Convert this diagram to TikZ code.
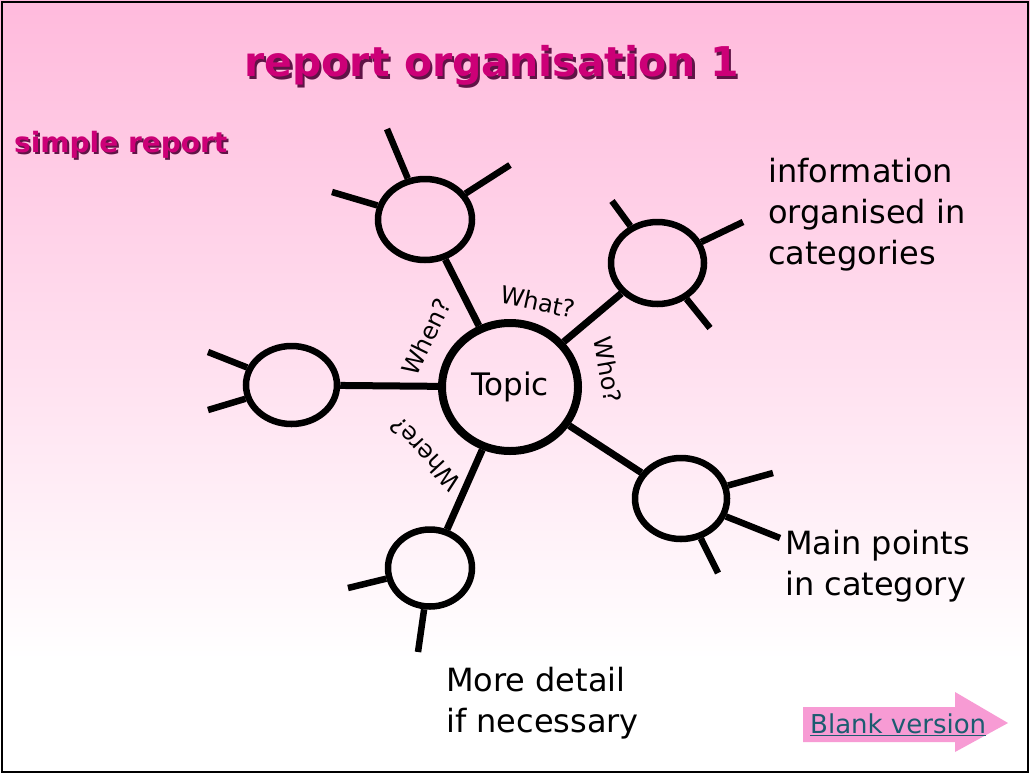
\documentclass[tikz,border=0pt]{standalone}
\usepackage{fontspec}
\setmainfont{DejaVu Sans}
\usetikzlibrary{shapes.geometric}
\definecolor{bgtop}{RGB}{255,186,220}
\definecolor{bgmid}{RGB}{252,214,234}
\definecolor{titlecol}{RGB}{204,0,119}
\definecolor{shadowcol}{RGB}{95,20,70}
\definecolor{linkcol}{RGB}{28,92,112}
\definecolor{arrowcol}{RGB}{247,155,212}
\tikzset{
  sat/.style={ellipse, draw=black, line width=6.5pt, inner sep=0pt},
  topicnode/.style={ellipse, draw=black, line width=8pt, inner sep=0pt,
    minimum width=136pt, minimum height=128pt, font=\fontsize{31}{37}\selectfont},
  link/.style={line width=7pt, black},
  spoke/.style={line width=6.5pt, black},
  qlabel/.style={font=\fontsize{24}{28}\selectfont, inner sep=0pt},
  bodytext/.style={font=\fontsize{32}{41}\selectfont, align=left, inner sep=0pt, anchor=north west},
  titletext/.style={font=\bfseries\fontsize{41}{46}\selectfont, inner sep=0pt, anchor=base},
  subtext/.style={font=\bfseries\fontsize{28}{32}\selectfont, inner sep=0pt, anchor=base west}
}
\begin{document}
\begin{tikzpicture}[x=1pt,y=-1pt]
\useasboundingbox (0,0) rectangle (1030,774);
\fill[white] (0,0) rectangle (1030,774);
\shade[top color=bgtop, middle color=bgmid, bottom color=white] (0,0) rectangle (1030,660);
\draw[black, line width=2pt] (2,2) rectangle (1028,772);

% title
\node[titletext, text=shadowcol] at (494,79) {report organisation 1};
\node[titletext, text=titlecol] (title) at (491.5,76) {report organisation 1};
\node[subtext, text=shadowcol] at (16,154) {simple report};
\node[subtext, text=titlecol] (sub) at (14,152) {simple report};

% central topic
\node[topicnode] (topic) at (510,387) {Topic};

% satellites
\node[sat, minimum width=94pt, minimum height=81pt] (s1) at (425,219.5) {};
\node[sat, minimum width=93pt, minimum height=82pt] (s2) at (657.5,263) {};
\node[sat, minimum width=91pt, minimum height=78pt] (s3) at (291.5,385) {};
\node[sat, minimum width=92pt, minimum height=81pt] (s4) at (681,498.5) {};
\node[sat, minimum width=84pt, minimum height=77pt] (s5) at (430,568) {};

% links to topic
\foreach \s in {s1,s2,s3,s4,s5} \draw[link] (\s) -- (topic);

% spoke ends
\coordinate (e11) at (387,129);
\coordinate (e12) at (332,192);
\coordinate (e13) at (510,165);
\coordinate (e21) at (612,201);
\coordinate (e22) at (743,222);
\coordinate (e23) at (710,328);
\coordinate (e31) at (208,352);
\coordinate (e32) at (208,410);
\coordinate (e41) at (773,473);
\coordinate (e42) at (780,538);
\coordinate (e43) at (718,573);
\coordinate (e51) at (348,588);
\coordinate (e52) at (418,652);
\draw[spoke] (s1) -- (e11);
\draw[spoke] (s1) -- (e12);
\draw[spoke] (s1) -- (e13);
\draw[spoke] (s2) -- (e21);
\draw[spoke] (s2) -- (e22);
\draw[spoke] (s2) -- (e23);
\draw[spoke] (s3) -- (e31);
\draw[spoke] (s3) -- (e32);
\draw[spoke] (s4) -- (e41);
\draw[spoke] (s4) -- (e42);
\draw[spoke] (s4) -- (e43);
\draw[spoke] (s5) -- (e51);
\draw[spoke] (s5) -- (e52);

% question labels
\node[qlabel, rotate=-12] (qwhat) at (538,302) {What?};
\node[qlabel, rotate=64] (qwhen) at (426,337) {When?};
\node[qlabel, rotate=-80] (qwho) at (608,370) {Who?};
\node[qlabel, rotate=133] (qwhere) at (425,454) {Where?};

% explanatory texts
\node[bodytext] (info) at (768,158) {information\\organised in\\categories};
\node[bodytext] (mainpts) at (785,530) {Main points\\in category};
\node[bodytext] (detail) at (446,667) {More detail\\if necessary};

% blank version arrow
\fill[arrowcol] (803,707) -- (955,707) -- (955,692) -- (1008,723) -- (955,752) -- (955,742) -- (803,742) -- cycle;
\node[font=\fontsize{26}{30}\selectfont, text=linkcol, inner sep=0pt, anchor=base west] (blank) at (810,733) {\underline{Blank version}};
\end{tikzpicture}
\end{document}
